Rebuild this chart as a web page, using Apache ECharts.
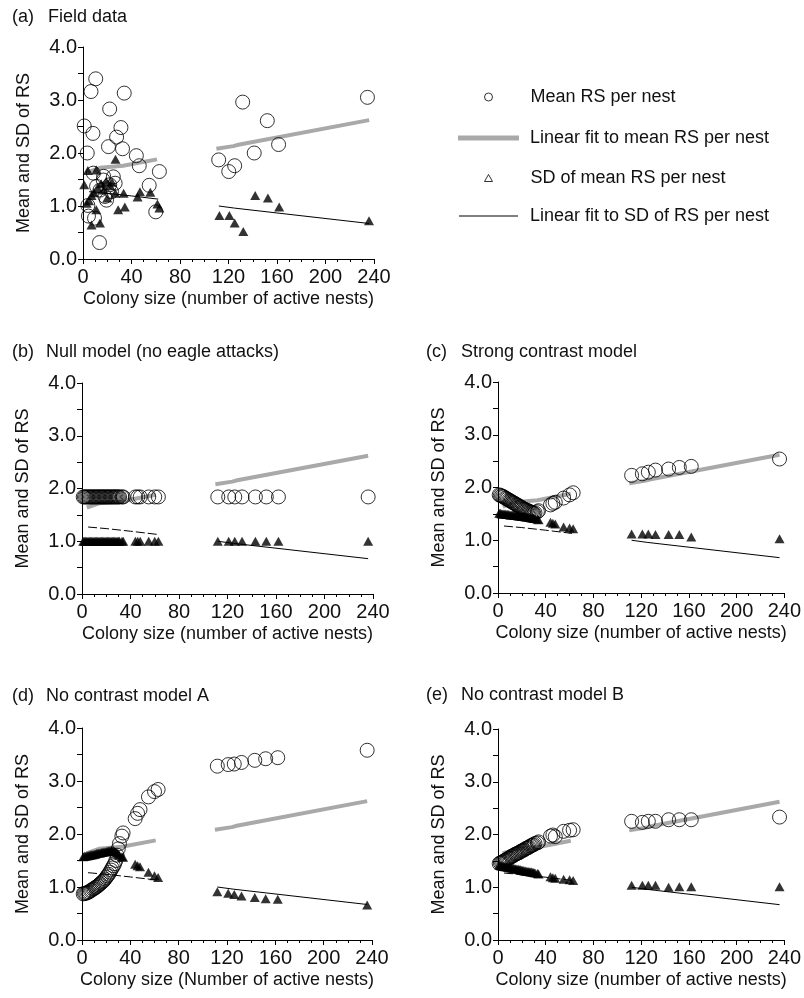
<!DOCTYPE html>
<html>
<head>
<meta charset="utf-8">
<script src="https://cdn.jsdelivr.net/npm/echarts@6/dist/echarts.min.js"></script>
<style>
  html, body { margin: 0; padding: 0; background: #fff; }
  #main { width: 804px; height: 998px; }
</style>
</head>
<body>
<div id="main"></div>
<script>
// field data (a): [colony size, value]
const fieldMean = [
  [1, 2.51], [3.5, 2.0], [6.6, 3.16], [10.5, 3.40], [8.2, 2.37], [22, 2.83], [21, 2.12],
  [27.7, 2.30], [31.3, 2.48], [34, 3.13], [32.6, 2.08], [44, 1.95], [46.4, 1.76], [54.6, 1.39],
  [63, 1.65], [60, 0.89], [4, 1.01], [4.5, 0.81], [13.6, 0.31], [9.5, 0.77], [8.5, 1.62],
  [16.7, 1.49], [11.2, 1.37], [17, 1.56], [25, 1.55], [26.5, 1.43], [23.5, 1.27], [18.1, 1.18],
  [19.4, 1.11], [14, 1.30], [22, 1.40],
  [111.9, 1.87], [120.2, 1.65], [125.1, 1.76], [131.7, 2.96], [141.2, 2.00], [152, 2.61],
  [161.3, 2.16], [234.6, 3.05]
];
const fieldSd = [
  [1, 1.40], [4, 1.67], [11, 1.68], [7, 1.20], [7, 0.64], [14, 0.68], [11, 0.93], [26.8, 1.88],
  [19, 1.46], [22.5, 1.38], [26.6, 1.24], [29, 0.93], [33.5, 1.24], [34.5, 0.98], [45, 1.17],
  [47, 1.27], [55.5, 1.26], [61.4, 1.04], [63, 0.96], [5, 1.10], [9, 1.25], [12, 1.35],
  [15, 1.42], [17, 1.30], [20, 1.15], [24, 1.45], [3, 1.05],
  [112.5, 0.82], [120.7, 0.82], [125.1, 0.68], [132.2, 0.52], [142, 1.20], [152.5, 1.15],
  [161.8, 0.98], [235.9, 0.72]
];

// linear fits to field data (drawn in every panel)
const meanFitLeft = [[4, 1.64], [14, 1.72], [33, 1.76], [61, 1.88]];
const meanFitRight = [[110, 2.08], [124, 2.13], [127, 2.15], [236, 2.62]];
const sdFitLeft = [[5, 1.27], [20, 1.24], [40, 1.19], [62, 1.13]];
const sdFitRight = [[112, 1.0], [125, 0.96], [236, 0.67]];

// simulated colonies
const modelSizes = [1, 2, 3, 4, 5, 6, 7, 8, 9, 10, 11, 12, 13, 14, 15, 16, 17, 18, 19, 20, 21, 22, 23, 24, 25, 26,
  27, 28, 29, 30, 31, 33, 34, 44, 46, 48, 55, 60, 63, 112, 121, 126, 132, 143, 152, 162, 236];

const nullMean = [1.84, 1.84, 1.84, 1.84, 1.84, 1.84, 1.84, 1.84, 1.84, 1.84, 1.84, 1.84, 1.84, 1.84, 1.84, 1.84,
  1.84, 1.84, 1.84, 1.84, 1.84, 1.84, 1.84, 1.84, 1.84, 1.84, 1.84, 1.84, 1.84, 1.84, 1.84, 1.84, 1.84, 1.84, 1.84,
  1.84, 1.84, 1.84, 1.84, 1.84, 1.84, 1.84, 1.84, 1.84, 1.84, 1.84, 1.84];
const nullSd = [1.0, 1.0, 1.0, 1.0, 1.0, 1.0, 1.0, 1.0, 1.0, 1.0, 1.0, 1.0, 1.0, 1.0, 1.0, 1.0, 1.0, 1.0, 1.0, 1.0,
  1.0, 1.0, 1.0, 1.0, 1.0, 1.0, 1.0, 1.0, 1.0, 1.0, 1.0, 1.0, 1.0, 1.0, 1.0, 1.0, 1.0, 1.0, 1.0, 1.0, 1.0, 1.0, 1.0,
  1.0, 1.0, 1.0, 1.0];

const strongMean = [1.86, 1.85, 1.84, 1.83, 1.82, 1.80, 1.79, 1.78, 1.76, 1.75, 1.74, 1.72, 1.71, 1.70, 1.68, 1.67,
  1.66, 1.64, 1.63, 1.62, 1.60, 1.59, 1.58, 1.57, 1.56, 1.55, 1.54, 1.53, 1.52, 1.51, 1.52, 1.54, 1.56,
  1.67, 1.70, 1.72, 1.80, 1.86, 1.90, 2.23, 2.26, 2.29, 2.33, 2.35, 2.38, 2.40, 2.54];
const strongSd = [1.51, 1.51, 1.50, 1.50, 1.50, 1.50, 1.49, 1.49, 1.49, 1.48, 1.48, 1.48, 1.48, 1.47, 1.47, 1.47,
  1.46, 1.46, 1.46, 1.45, 1.45, 1.45, 1.44, 1.44, 1.44, 1.43, 1.43, 1.42, 1.42, 1.41, 1.41, 1.40, 1.39,
  1.34, 1.32, 1.31, 1.25, 1.23, 1.22, 1.12, 1.12, 1.12, 1.11, 1.11, 1.11, 1.06, 1.03];

const modelAMean = [0.87, 0.88, 0.88, 0.89, 0.90, 0.91, 0.93, 0.94, 0.96, 0.97, 0.99, 1.00, 1.02, 1.04, 1.06, 1.08,
  1.10, 1.12, 1.15, 1.18, 1.21, 1.24, 1.28, 1.32, 1.36, 1.40, 1.44, 1.50, 1.60, 1.72, 1.82, 1.96, 2.02,
  2.29, 2.39, 2.46, 2.70, 2.80, 2.84, 3.28, 3.31, 3.32, 3.35, 3.39, 3.42, 3.44, 3.58];
const modelASd = [1.57, 1.58, 1.58, 1.59, 1.59, 1.60, 1.60, 1.61, 1.61, 1.62, 1.62, 1.63, 1.63, 1.64, 1.64, 1.65,
  1.65, 1.66, 1.66, 1.67, 1.67, 1.68, 1.68, 1.69, 1.69, 1.68, 1.67, 1.66, 1.64, 1.62, 1.60, 1.57, 1.56,
  1.43, 1.40, 1.38, 1.28, 1.21, 1.18, 0.91, 0.88, 0.86, 0.83, 0.80, 0.78, 0.77, 0.66];

const modelBMean = [1.45, 1.46, 1.47, 1.48, 1.50, 1.51, 1.52, 1.54, 1.55, 1.56, 1.58, 1.59, 1.60, 1.62, 1.63, 1.64,
  1.65, 1.66, 1.68, 1.69, 1.70, 1.71, 1.73, 1.74, 1.75, 1.76, 1.78, 1.79, 1.80, 1.81, 1.83, 1.84, 1.86,
  1.97, 1.99, 1.96, 2.06, 2.08, 2.09, 2.25, 2.23, 2.25, 2.25, 2.28, 2.28, 2.28, 2.33];
const modelBSd = [1.42, 1.41, 1.41, 1.40, 1.40, 1.39, 1.39, 1.38, 1.38, 1.37, 1.37, 1.36, 1.36, 1.35, 1.35, 1.34,
  1.34, 1.33, 1.33, 1.32, 1.32, 1.31, 1.31, 1.30, 1.30, 1.30, 1.29, 1.29, 1.28, 1.28, 1.27, 1.26, 1.25,
  1.20, 1.18, 1.17, 1.15, 1.14, 1.13, 1.04, 1.04, 1.04, 1.04, 1.00, 1.01, 1.01, 1.01];

const xTicks = [0, 40, 80, 120, 160, 200, 240];
const yTicks = [0, 1, 2, 3, 4];

const pairUp = (xs, ys) => xs.map((x, i) => [x, ys[i]]);

const panels = [
  { tag: '(a)', title: 'Field data', xName: 'Colony size (number of active nests)',
    grid: { left: 83, top: 47, width: 291, height: 212 }, tagPos: [12, 8], titlePos: [48, 8],
    mean: fieldMean, sd: fieldSd, dashed: false },
  { tag: '(b)', title: 'Null model (no eagle attacks)', xName: 'Colony size (number of active nests)',
    grid: { left: 82, top: 383, width: 291, height: 211 }, tagPos: [12, 343], titlePos: [46, 343],
    mean: pairUp(modelSizes, nullMean), sd: pairUp(modelSizes, nullSd), dashed: true },
  { tag: '(c)', title: 'Strong contrast model', xName: 'Colony size (number of active nests)',
    grid: { left: 498, top: 382, width: 290, height: 211 }, tagPos: [426, 343], titlePos: [461, 343],
    mean: pairUp(modelSizes, strongMean), sd: pairUp(modelSizes, strongSd), dashed: true },
  { tag: '(d)', title: 'No contrast model A', xName: 'Colony size (Number of active nests)',
    grid: { left: 82, top: 728, width: 290, height: 212 }, tagPos: [12, 687], titlePos: [46, 687],
    mean: pairUp(modelSizes, modelAMean), sd: pairUp(modelSizes, modelASd), dashed: true },
  { tag: '(e)', title: 'No contrast model B', xName: 'Colony size (number of active nests)',
    grid: { left: 498, top: 729, width: 287, height: 211 }, tagPos: [426, 686], titlePos: [461, 686],
    mean: pairUp(modelSizes, modelBMean), sd: pairUp(modelSizes, modelBSd), dashed: true }
];

const FONT = 'Liberation Sans, Arial, sans-serif';
const TXT = '#111';
const GRAY = '#a9a9a9';

const grids = [], xAxes = [], yAxes = [], titles = [], series = [];

panels.forEach((p, i) => {
  grids.push(p.grid);
  titles.push({ text: p.tag, left: p.tagPos[0], top: p.tagPos[1], padding: 0,
    textStyle: { fontFamily: FONT, fontSize: 18, fontWeight: 'normal', color: TXT } });
  titles.push({ text: p.title, left: p.titlePos[0], top: p.titlePos[1], padding: 0,
    textStyle: { fontFamily: FONT, fontSize: 18, fontWeight: 'normal', color: TXT } });
  xAxes.push({
    type: 'value', gridIndex: i, min: xTicks[0], max: xTicks[xTicks.length - 1], interval: 40,
    name: p.xName, nameLocation: 'middle', nameGap: 31,
    nameTextStyle: { fontFamily: FONT, fontSize: 18, color: TXT },
    axisLine: { show: true, onZero: false, lineStyle: { color: '#000', width: 1 } },
    axisTick: { show: true, length: 5, lineStyle: { color: '#000' } },
    minorTick: { show: true, splitNumber: 4, length: 3, lineStyle: { color: '#000' } },
    splitLine: { show: false },
    axisLabel: { margin: 8, fontFamily: FONT, fontSize: 20, color: TXT }
  });
  yAxes.push({
    type: 'value', gridIndex: i, min: yTicks[0], max: yTicks[yTicks.length - 1], interval: 1,
    name: 'Mean and SD of RS', nameLocation: 'middle', nameGap: 50, nameRotate: 90,
    nameTextStyle: { fontFamily: FONT, fontSize: 18, color: TXT },
    axisLine: { show: true, lineStyle: { color: '#000', width: 1 } },
    axisTick: { show: true, length: 5, lineStyle: { color: '#000' } },
    minorTick: { show: true, splitNumber: 2, length: 5, lineStyle: { color: '#000' } },
    splitLine: { show: false },
    axisLabel: { margin: 6, fontFamily: FONT, fontSize: 20, color: TXT, formatter: v => v.toFixed(1) }
  });

  const fitLine = (name, data, color, width, dashed) => ({
    name, type: 'line', xAxisIndex: i, yAxisIndex: i, data, symbol: 'none', silent: true,
    lineStyle: { color, width, type: dashed ? [9, 3] : 'solid' }, itemStyle: { color }, z: 2
  });
  series.push(fitLine('Linear fit to mean RS per nest', meanFitLeft, GRAY, 4, false));
  series.push(fitLine('Linear fit to mean RS per nest', meanFitRight, GRAY, 4, false));
  series.push(fitLine('Linear fit to SD of RS per nest', sdFitLeft, '#000', 1, p.dashed));
  series.push(fitLine('Linear fit to SD of RS per nest', sdFitRight, '#000', 1, false));
  series.push({
    name: 'Mean RS per nest', type: 'scatter', xAxisIndex: i, yAxisIndex: i, data: p.mean,
    symbol: 'circle', symbolSize: 14, z: 3,
    itemStyle: { color: 'rgba(0,0,0,0)', borderColor: '#000', borderWidth: 1 }
  });
  series.push({
    name: 'SD of mean RS per nest', type: 'scatter', xAxisIndex: i, yAxisIndex: i, data: p.sd,
    symbol: 'triangle', symbolSize: [10, 9], z: 4,
    itemStyle: { color: '#000' }
  });
});

// one legend per entry so each icon can have its own size
const legendItem = (left, top, w, h, pad, item) => ({
  orient: 'vertical', left, top, itemWidth: w, itemHeight: h, selectedMode: false,
  textStyle: { fontFamily: FONT, fontSize: 18, color: TXT, padding: [0, 0, 0, pad] },
  data: [item]
});
const legends = [
  legendItem(479, 83, 8, 8, 33, { name: 'Mean RS per nest', icon: 'circle',
    itemStyle: { color: 'rgba(0,0,0,0)', borderColor: '#000', borderWidth: 1 } }),
  legendItem(453, 124, 61, 5, 6, { name: 'Linear fit to mean RS per nest', icon: 'rect',
    itemStyle: { color: GRAY, borderWidth: 0 } }),
  legendItem(479, 164, 8, 7, 33, { name: 'SD of mean RS per nest', icon: 'triangle',
    itemStyle: { color: '#fff', borderColor: '#000', borderWidth: 1 } }),
  legendItem(454, 202, 59, 1, 7, { name: 'Linear fit to SD of RS per nest', icon: 'rect',
    itemStyle: { color: '#000', borderWidth: 0 } })
];

const myChart = echarts.init(document.getElementById('main'), null, { renderer: 'canvas' });
myChart.setOption({
  animation: false,
  backgroundColor: '#fff',
  title: titles,
  grid: grids,
  xAxis: xAxes,
  yAxis: yAxes,
  legend: legends,
  series: series
});
</script>
</body>
</html>
